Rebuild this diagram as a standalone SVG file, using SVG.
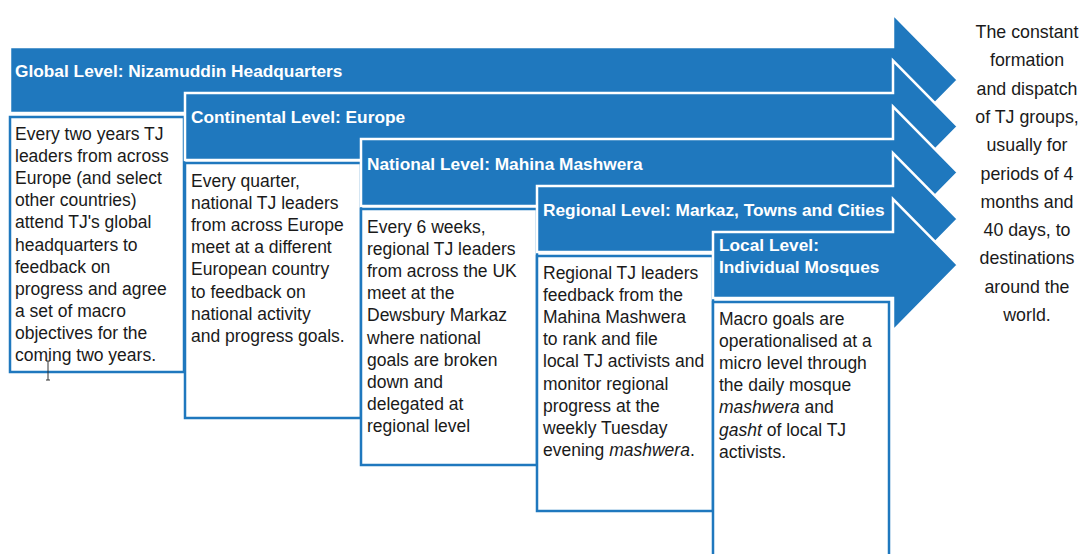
<svg xmlns="http://www.w3.org/2000/svg" width="1081" height="554" viewBox="0 0 1081 554">
<style>
.arrow{fill:#1f78be;stroke:#ffffff;stroke-width:2.5;stroke-linejoin:miter}
.box{fill:#ffffff;stroke:#1f78be;stroke-width:2.5}
.hdr{font-family:"Liberation Sans",Arial,sans-serif;font-size:17.3px;font-weight:bold;fill:#ffffff}
.txt{font-family:"Liberation Sans",Arial,sans-serif;font-size:17.5px;fill:#1a1a1a}
.side{font-family:"Liberation Sans",Arial,sans-serif;font-size:17.8px;fill:#1a1a1a;text-anchor:middle}
.it{font-style:italic}
</style>
<rect width="1081" height="554" fill="#ffffff"/>
<g id="connectors"/>
<g id="level-global">
<polygon class="arrow" points="10,47 893,47 893,14 958,80 893,146 893,113 10,113"/>
<text class="hdr" x="15" y="77">Global Level: Nizamuddin Headquarters</text>
<rect class="box" x="10" y="117" width="174" height="255"/>
<text class="txt" x="15" y="140"><tspan x="15">Every two years TJ</tspan><tspan x="15" dy="22.1">leaders from across</tspan><tspan x="15" dy="22.1">Europe (and select</tspan><tspan x="15" dy="22.1">other countries)</tspan><tspan x="15" dy="22.1">attend TJ's global</tspan><tspan x="15" dy="22.1">headquarters to</tspan><tspan x="15" dy="22.1">feedback on</tspan><tspan x="15" dy="22.1">progress and agree</tspan><tspan x="15" dy="22.1">a set of macro</tspan><tspan x="15" dy="22.1">objectives for the</tspan><tspan x="15" dy="22.1">coming two years.</tspan></text>
<path d="M48,361 V380 M46,361 H50 M46,380 H50" stroke="#333333" stroke-width="1" fill="none"/>
</g>
<g id="level-continental">
<polygon class="arrow" points="185,93 893,93 893,60.5 958,126.5 893,192.5 893,160 185,160"/>
<text class="hdr" x="191" y="123">Continental Level: Europe</text>
<rect class="box" x="185" y="163" width="176" height="255"/>
<text class="txt" x="191" y="187"><tspan x="191">Every quarter,</tspan><tspan x="191" dy="22.1">national TJ leaders</tspan><tspan x="191" dy="22.1">from across Europe</tspan><tspan x="191" dy="22.1">meet at a different</tspan><tspan x="191" dy="22.1">European country</tspan><tspan x="191" dy="22.1">to feedback on</tspan><tspan x="191" dy="22.1">national activity</tspan><tspan x="191" dy="22.1">and progress goals.</tspan></text>
</g>
<g id="level-national">
<polygon class="arrow" points="361,139 893,139 893,106.5 958,172.5 893,238.5 893,206 361,206"/>
<text class="hdr" x="367" y="170">National Level: Mahina Mashwera</text>
<rect class="box" x="361" y="209" width="176" height="256"/>
<text class="txt" x="367" y="233"><tspan x="367">Every 6 weeks,</tspan><tspan x="367" dy="22.1">regional TJ leaders</tspan><tspan x="367" dy="22.1">from across the UK</tspan><tspan x="367" dy="22.1">meet at the</tspan><tspan x="367" dy="22.1">Dewsbury Markaz</tspan><tspan x="367" dy="22.1">where national</tspan><tspan x="367" dy="22.1">goals are broken</tspan><tspan x="367" dy="22.1">down and</tspan><tspan x="367" dy="22.1">delegated at</tspan><tspan x="367" dy="22.1">regional level</tspan></text>
</g>
<g id="level-regional">
<polygon class="arrow" points="537,186 893,186 893,153 958,219 893,285 893,252 537,252"/>
<text class="hdr" x="543" y="216">Regional Level: Markaz, Towns and Cities</text>
<rect class="box" x="537" y="256" width="176" height="255"/>
<text class="txt" x="543" y="279"><tspan x="543">Regional TJ leaders</tspan><tspan x="543" dy="22.1">feedback from the</tspan><tspan x="543" dy="22.1">Mahina Mashwera</tspan><tspan x="543" dy="22.1">to rank and file</tspan><tspan x="543" dy="22.1">local TJ activists and</tspan><tspan x="543" dy="22.1">monitor regional</tspan><tspan x="543" dy="22.1">progress at the</tspan><tspan x="543" dy="22.1">weekly Tuesday</tspan><tspan x="543" dy="22.1">evening <tspan class="it">mashwera</tspan>.</tspan></text>
</g>
<g id="level-local">
<polygon class="arrow" points="713,232 893,232 893,199 958,265 893,331 893,298 713,298"/>
<text class="hdr" x="719" y="251"><tspan x="719">Local Level:</tspan><tspan x="719" y="273">Individual Mosques</tspan></text>
<rect class="box" x="713" y="302" width="176" height="260"/>
<text class="txt" x="719" y="325"><tspan x="719">Macro goals are</tspan><tspan x="719" dy="22.1">operationalised at a</tspan><tspan x="719" dy="22.1">micro level through</tspan><tspan x="719" dy="22.1">the daily mosque</tspan><tspan x="719" dy="22.1"><tspan class="it">mashwera</tspan> and</tspan><tspan x="719" dy="22.1"><tspan class="it">gasht</tspan> of local TJ</tspan><tspan x="719" dy="22.1">activists.</tspan></text>
</g>
<g id="outcome">
<text class="side" x="1027" y="38"><tspan x="1027">The constant</tspan><tspan x="1027" dy="28.3">formation</tspan><tspan x="1027" dy="28.3">and dispatch</tspan><tspan x="1027" dy="28.3">of TJ groups,</tspan><tspan x="1027" dy="28.3">usually for</tspan><tspan x="1027" dy="28.3">periods of 4</tspan><tspan x="1027" dy="28.3">months and</tspan><tspan x="1027" dy="28.3">40 days, to</tspan><tspan x="1027" dy="28.3">destinations</tspan><tspan x="1027" dy="28.3">around the</tspan><tspan x="1027" dy="28.3">world.</tspan></text>
</g>
</svg>
